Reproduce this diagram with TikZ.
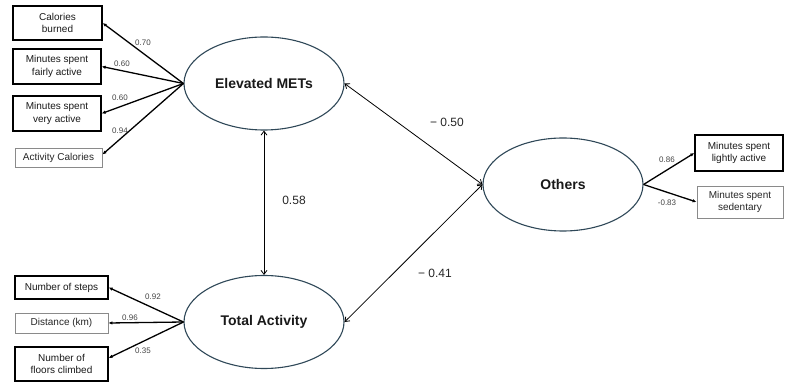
\documentclass[tikz,border=0pt]{standalone}
\usepackage{fontspec}
\setmainfont{Liberation Sans}
\usetikzlibrary{arrows.meta,shapes.geometric}
\definecolor{ellcol}{HTML}{2F4858}
\definecolor{coefcol}{HTML}{444444}
\definecolor{graybox}{HTML}{8A8A8A}
\tikzset{
  latent/.style={ellipse, draw=ellcol, line width=1.1pt, minimum width=160pt, minimum height=93pt, inner sep=0pt, font=\fontsize{14}{16}\selectfont\bfseries, text=black!90},
  obsbox/.style={rectangle, draw=black, line width=1.3pt, inner sep=0pt, align=center, font=\fontsize{10}{12.5}\selectfont, text=black!90},
  obsgray/.style={rectangle, draw=graybox, line width=0.9pt, inner sep=0pt, align=center, font=\fontsize{10}{12.5}\selectfont, text=black!85},
  load/.style={line width=1.3pt, -{Latex[length=4pt,width=3.5pt]}},
  corr/.style={line width=0.8pt, {Straight Barb[length=4pt,width=6pt]}-{Straight Barb[length=4pt,width=6pt]}},
  coef/.style={font=\fontsize{8}{9}\selectfont, text=coefcol, inner sep=0pt},
  bigcoef/.style={font=\fontsize{12}{14}\selectfont, text=black!85, inner sep=0pt}
}
\begin{document}
\begin{tikzpicture}[x=1pt,y=-1pt]
\useasboundingbox (0,0) rectangle (800,387);
% latent variables
\node[latent] (met) at (264,83.5) {Elevated METs};
\node[latent] (tot) at (264,322) {Total Activity};
\node[latent] (oth) at (563,184.5) {Others};
% indicator boxes
\node[obsbox, minimum width=89pt, minimum height=34pt] (cal) at (57.5,23) {Calories\\burned};
\node[obsbox, minimum width=88pt, minimum height=35pt] (fair) at (57,66.5) {Minutes spent\\fairly active};
\node[obsbox, minimum width=88pt, minimum height=35pt] (very) at (57,113.5) {Minutes spent\\very active};
\node[obsgray, minimum width=87pt, minimum height=19pt] (actcal) at (58.5,157.5) {Activity Calories};
\node[obsbox, minimum width=93pt, minimum height=23pt] (steps) at (61.5,287.5) {Number of steps};
\node[obsgray, minimum width=93pt, minimum height=20pt] (dist) at (61.5,323) {Distance (km)};
\node[obsbox, minimum width=93pt, minimum height=34pt] (floors) at (61.5,364) {Number of\\floors climbed};
\node[obsbox, minimum width=88pt, minimum height=36pt] (light) at (739,153) {Minutes spent\\lightly active};
\node[obsgray, minimum width=86pt, minimum height=32pt] (sed) at (740,202) {Minutes spent\\sedentary};
% loadings
\draw[load] (met.west) -- (cal.east);
\draw[load] (met.west) -- (fair.east);
\draw[load] (met.west) -- (very.east);
\draw[load] (met.west) -- ([yshift=3pt]actcal.east);
\draw[load] (tot.west) -- (steps.east);
\draw[load] (tot.west) -- (dist.east);
\draw[load] (tot.west) -- ([yshift=6pt]floors.east);
\draw[load] (oth.east) -- (light.west);
\draw[load] (oth.east) -- (sed.west);
% correlations
\draw[corr] (met.south) -- (tot.north);
\draw[corr] (met.east) -- (oth.west);
\draw[corr] (tot.east) -- (oth.west);
% loading labels
\node[coef] (l1) at (143,43) {0.70};
\node[coef] (l2) at (122,63.5) {0.60};
\node[coef] (l3) at (120,98) {0.60};
\node[coef] (l4) at (120,130.5) {0.94};
\node[coef] (l5) at (153,297) {0.92};
\node[coef] (l6) at (130,318) {0.96};
\node[coef] (l7) at (143,350.5) {0.35};
\node[coef] (l8) at (667,160) {0.86};
\node[coef] (l9) at (667,203) {-0.83};
% correlation labels
\node[bigcoef] (c1) at (294,200) {0.58};
\node[bigcoef] (c2) at (447,122) {− 0.50};
\node[bigcoef] (c3) at (435,273) {− 0.41};
\end{tikzpicture}
\end{document}
